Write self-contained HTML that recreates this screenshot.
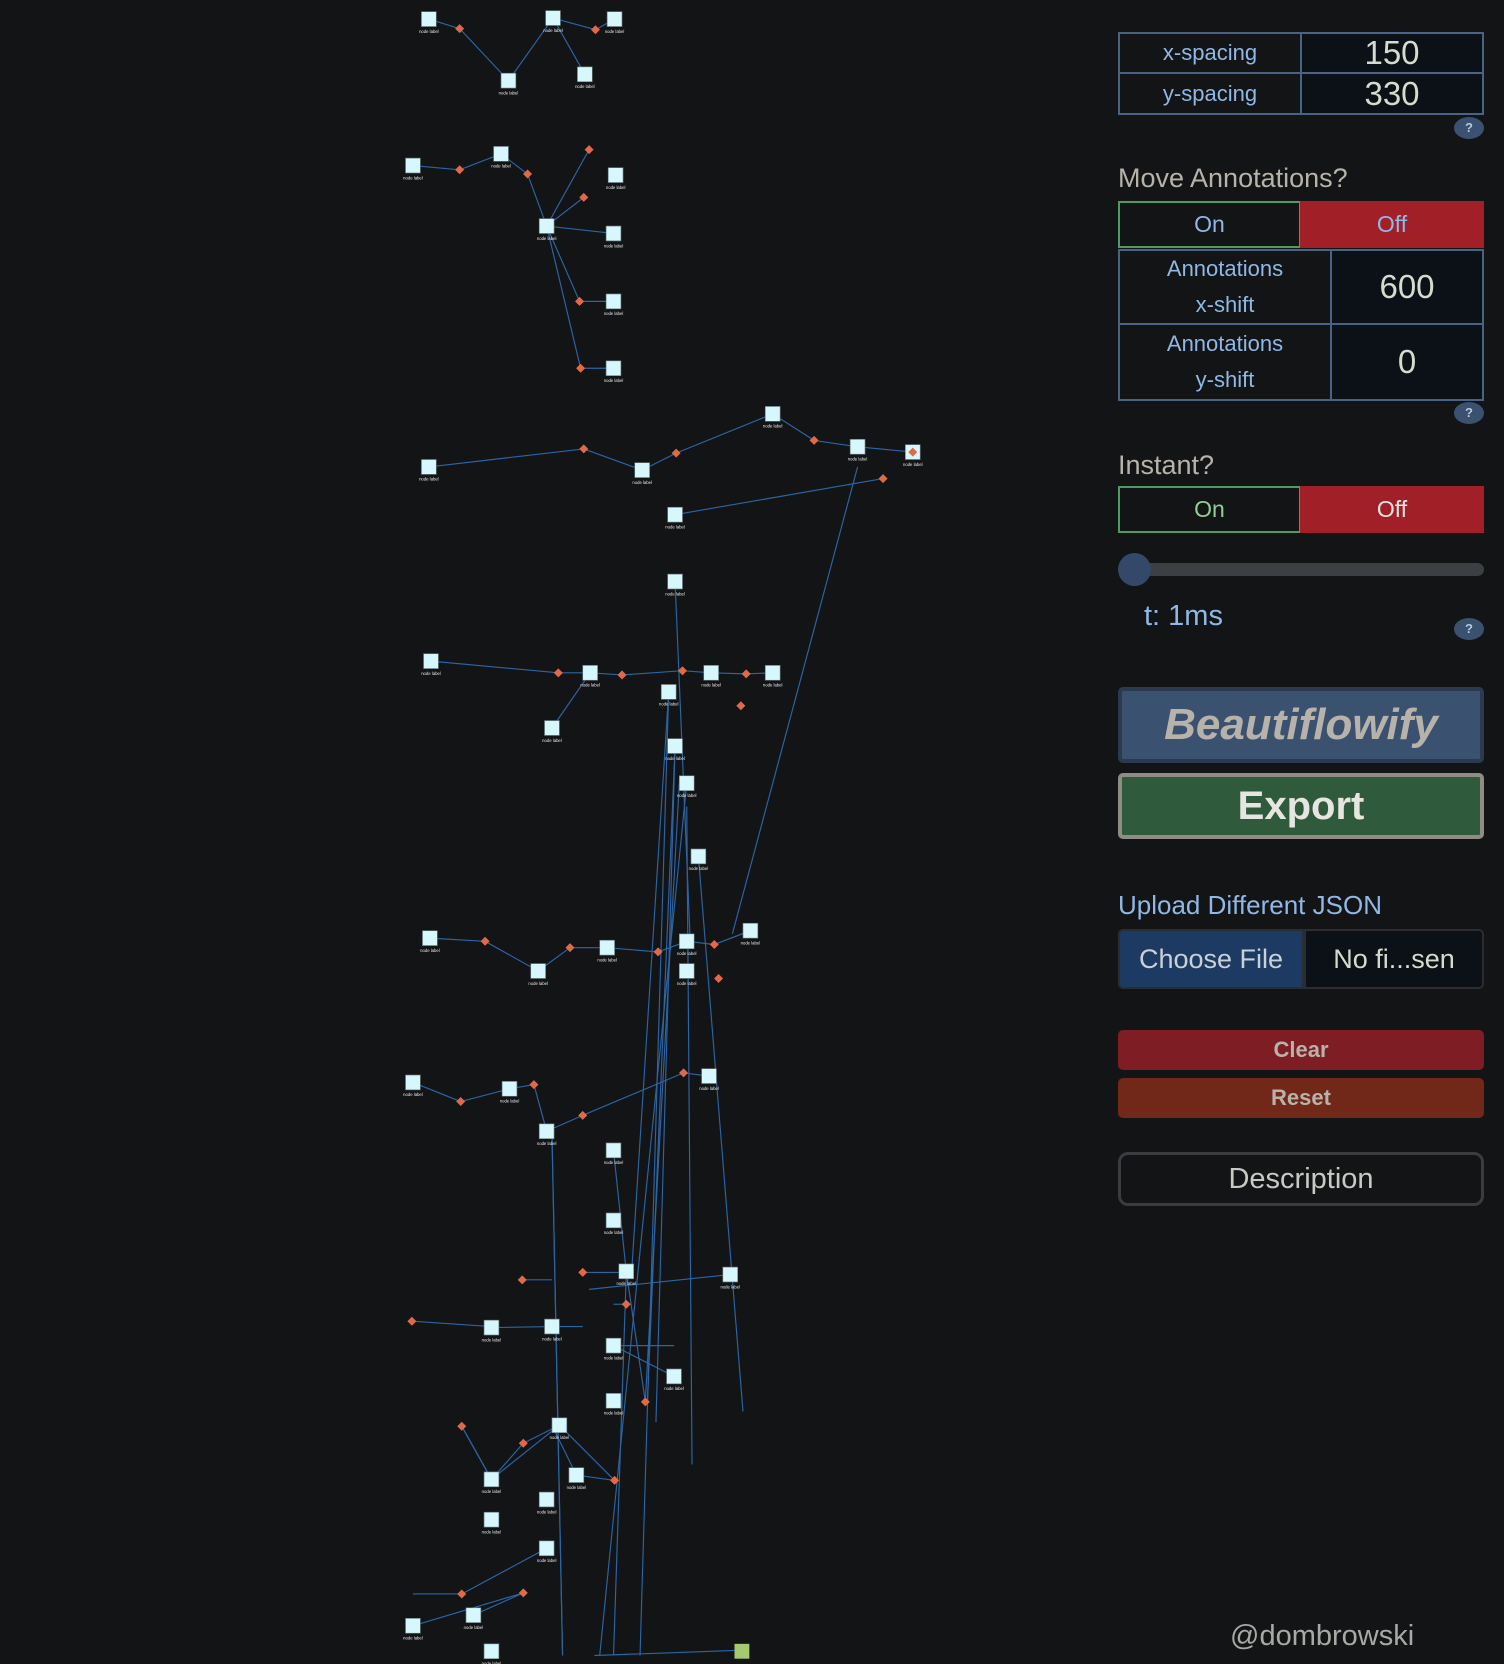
<!DOCTYPE html>
<html><head><meta charset="utf-8">
<style>
html,body{margin:0;padding:0;background:#131416;width:1504px;height:1664px;overflow:hidden;font-family:"Liberation Sans",sans-serif;}
#graph{position:absolute;left:0;top:0;}
.cell{position:absolute;box-sizing:border-box;border:2px solid #4a6385;display:flex;align-items:center;justify-content:center;text-align:center;}
.lbl{background:#131416;color:#8fb8e6;font-size:22px;line-height:36px;}
.val{background:#0c1117;color:#d6dccd;font-size:33px;}
.help{position:absolute;width:30px;height:22px;border-radius:50%;background:#3a5170;color:#b8c8dc;font-size:13px;font-weight:bold;text-align:center;line-height:22px;}
.h{position:absolute;color:#b8b3aa;font-size:27px;}
.tog{position:absolute;box-sizing:border-box;height:47px;width:183px;display:flex;align-items:center;justify-content:center;font-size:23px;}
.btn{position:absolute;box-sizing:border-box;left:1118px;width:366px;display:flex;align-items:center;justify-content:center;font-weight:bold;border-radius:5px;}
</style></head><body>
<svg id="graph" width="1504" height="1664" viewBox="0 0 1417 1568"></svg>

<div class="cell lbl" style="left:1118px;top:32px;width:184px;height:42px;">x-spacing</div>
<div class="cell val" style="left:1300px;top:32px;width:184px;height:42px;">150</div>
<div class="cell lbl" style="left:1118px;top:72px;width:184px;height:43px;">y-spacing</div>
<div class="cell val" style="left:1300px;top:72px;width:184px;height:43px;">330</div>
<div class="help" style="left:1454px;top:117px;">?</div>

<div class="h" style="left:1118px;top:163px;">Move Annotations?</div>
<div class="tog" style="left:1118px;top:201px;border:2px solid #4f9a63;color:#8fb8e6;background:#131416;">On</div>
<div class="tog" style="left:1300px;top:201px;width:184px;background:#a11f27;color:#8fb8e6;">Off</div>
<div class="cell lbl" style="left:1118px;top:249px;width:214px;height:76px;">Annotations<br>x-shift</div>
<div class="cell val" style="left:1330px;top:249px;width:154px;height:76px;">600</div>
<div class="cell lbl" style="left:1118px;top:323px;width:214px;height:78px;">Annotations<br>y-shift</div>
<div class="cell val" style="left:1330px;top:323px;width:154px;height:78px;">0</div>
<div class="help" style="left:1454px;top:402px;">?</div>

<div class="h" style="left:1118px;top:450px;">Instant?</div>
<div class="tog" style="left:1118px;top:486px;border:2px solid #4f9a63;color:#8fcf9a;background:#131416;">On</div>
<div class="tog" style="left:1300px;top:486px;width:184px;background:#a11f27;color:#e6e6e6;">Off</div>
<div style="position:absolute;left:1118px;top:563px;width:366px;height:13px;border-radius:7px;background:#3c3f43;"></div>
<div style="position:absolute;left:1118px;top:553px;width:33px;height:33px;border-radius:50%;background:#34496a;"></div>
<div style="position:absolute;left:1144px;top:600px;color:#8fb8e6;font-size:29px;">t: 1ms</div>
<div class="help" style="left:1454px;top:618px;">?</div>

<div class="btn" style="top:687px;height:76px;background:#3b5170;border:4px solid #2b3a4f;color:#b8b3aa;font-size:44px;font-style:italic;">Beautiflowify</div>
<div class="btn" style="top:773px;height:66px;background:#2f5a3b;border:4px solid #8f8c84;color:#e6e6e0;font-size:40px;">Export</div>
<div style="position:absolute;left:1118px;top:890px;color:#8fb8e6;font-size:26px;">Upload Different JSON</div>
<div style="position:absolute;left:1118px;top:929px;width:186px;height:60px;box-sizing:border-box;background:#1d3a63;border:2px solid #2a2e33;border-radius:5px 0 0 5px;color:#c8d0da;font-size:27px;display:flex;align-items:center;justify-content:center;">Choose File</div>
<div style="position:absolute;left:1304px;top:929px;width:180px;height:60px;box-sizing:border-box;background:#0c1117;border:2px solid #2a2e33;border-radius:0 5px 5px 0;color:#d6dccd;font-size:27px;display:flex;align-items:center;justify-content:center;">No fi...sen</div>
<div class="btn" style="top:1030px;height:40px;background:#7f1d24;color:#b8b3aa;font-size:22px;">Clear</div>
<div class="btn" style="top:1078px;height:40px;background:#722818;color:#b8b3aa;font-size:22px;">Reset</div>
<div class="btn" style="top:1152px;height:54px;background:#131416;border:3px solid #3a3c40;border-radius:10px;color:#c8c8c4;font-size:29px;font-weight:normal;">Description</div>
<div style="position:absolute;left:1230px;top:1620px;color:#a8a8a4;font-size:29px;">@dombrowski</div>

<script>
// graph data (display-space coordinates)
const nodeX=[404,521,579,479,551, 389,472,580,515,578,578,578, 404,605,728,808,860,636, 636,406,556,670,728,630,520,636,647,658,707, 405,507,572,647,647, 389,480,668,515,578,578, 590,688,463,520,578,635,578, 527,463,543,515,463,515,389,446,463];
const nodeY=[18,17,18,76,70, 156,145,165,213,220,284,347, 440,443,390,421,426,485, 548,623,634,634,634,652,686,703,738,807,877, 884,915,893,887,915, 1020,1026,1014,1066,1084,1150, 1198,1201,1251,1250,1268,1297,1320, 1343,1394,1390,1413,1432,1459,1532,1522,1556];
const diamondX=[433,561, 433,497,555,550,546,547, 550,637,767,832,860, 526,586,643,703,698, 457,537,620,673,677, 434,503,549,644, 388,492,549,590,608, 435,493,579,435,493];
const diamondY=[27,28, 160,164,141,186,284,347, 423,427,415,451,426, 634,636,632,635,665, 887,893,897,890,922, 1038,1022,1051,1011, 1245,1206,1199,1229,1321, 1344,1360,1395,1502,1501];
const edgeX1=[404,433,479,521,561,521, 389,433,472,497,555,550,515,546,515,547,578, 404,550,605,637,728,767,808,636,808, 636,406,526,556,586,643,670,703,630,520,636,647,658,707,636,640,647,630, 405,457,507,537,572,620,647,673, 389,434,480,503,515,549,644,520,578, 388,463,492,520,549,590,578,635,608,688, 527,493,463,435,527,579,543,463,515,435,389,446,520,590,560];
const edgeY1=[18,27,76,17,28,17, 156,160,145,164,141,186,213,284,213,347,220, 440,423,443,427,390,415,421,485,440, 548,623,634,634,636,632,634,635,652,686,703,738,807,877,703,738,760,652, 884,887,915,893,893,897,887,890, 1020,1038,1026,1022,1066,1051,1011,1066,1084, 1245,1251,1206,1250,1199,1229,1268,1297,1321,1201, 1343,1360,1394,1344,1343,1395,1390,1394,1459,1502,1532,1522,1070,1200,1560];
const edgeX2=[433,479,521,561,579,551, 433,472,497,515,515,515,546,578,547,578,515, 550,605,637,728,767,808,860,832,690, 650,526,556,586,643,670,703,728,595,556,610,565,700,673,618,608,652,603, 457,507,537,572,620,647,673,707, 434,480,503,515,549,644,668,530,590, 463,520,520,549,590,578,635,578,590,555, 493,463,527,463,579,543,520,435,435,389,493,493,530,578,699];
const edgeY2=[27,76,17,28,18,70, 160,145,164,213,213,213,284,284,347,347,213, 423,443,427,390,415,421,426,451,880, 880,634,634,636,632,634,635,634,1200,634,1320,1560,1330,890,1340,1320,1380,1560, 887,915,893,893,897,887,890,877, 1038,1026,1022,1066,1051,1011,1014,1560,1198, 1250,1250,1206,1250,1199,1229,1268,1268,1198,1215, 1360,1394,1343,1394,1395,1390,1343,1344,1502,1502,1501,1501,1560,1560,1555];

const svg=document.getElementById('graph');
const NS='http://www.w3.org/2000/svg';
for(let i=0;i<edgeX1.length;i++){
  const l=document.createElementNS(NS,'line');
  l.setAttribute('x1',edgeX1[i]);l.setAttribute('y1',edgeY1[i]);
  l.setAttribute('x2',edgeX2[i]);l.setAttribute('y2',edgeY2[i]);
  l.setAttribute('stroke','#2c64a4');l.setAttribute('stroke-width','1.1');
  
  
  svg.appendChild(l);
}
for(let i=0;i<nodeX.length;i++){
  const r=document.createElementNS(NS,'rect');
  r.setAttribute('x',nodeX[i]-7);r.setAttribute('y',nodeY[i]-7);
  r.setAttribute('width',14);r.setAttribute('height',14);
  r.setAttribute('fill','#d6f8fc');r.setAttribute('stroke','#6a7a80');r.setAttribute('stroke-width','0.6');
  
  
  svg.appendChild(r);
  const t=document.createElementNS(NS,'text');
  t.setAttribute('x',nodeX[i]);t.setAttribute('y',nodeY[i]+13);
  t.setAttribute('font-size','4');t.setAttribute('fill','#e8e8e8');t.setAttribute('text-anchor','middle');
  t.setAttribute('font-family','Liberation Sans, sans-serif');
  t.textContent='node label';
  
  
  svg.appendChild(t);
}
for(let i=0;i<diamondX.length;i++){
  const p=document.createElementNS(NS,'rect');
  p.setAttribute('x',diamondX[i]-3);p.setAttribute('y',diamondY[i]-3);
  p.setAttribute('width',6);p.setAttribute('height',6);
  p.setAttribute('transform','rotate(45 '+diamondX[i]+' '+diamondY[i]+')');
  p.setAttribute('fill','#e06a48');
  
  
  svg.appendChild(p);
}
const g=document.createElementNS(NS,'rect');
g.setAttribute('x',692);g.setAttribute('y',1549);g.setAttribute('width',14);g.setAttribute('height',14);
g.setAttribute('fill','#a6c870');


svg.appendChild(g);
</script>
</body></html>
